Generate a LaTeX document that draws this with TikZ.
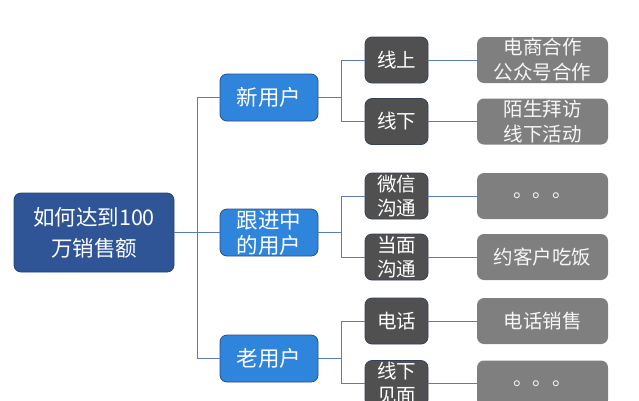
\documentclass[tikz,border=0pt]{standalone}
\usepackage{fontspec}
\setmainfont{Noto Sans CJK SC}
\begin{document}
\begin{tikzpicture}[x=1pt,y=-1pt,
  base/.style={rounded corners=7pt, text=white, align=center, inner sep=0pt, line width=0.8pt},
  rootbox/.style={base, fill=rootblue, draw=rootedge, minimum width=160pt, minimum height=79pt, font=\fontsize{21.5}{31}\selectfont},
  lvone/.style={base, fill=lvblue, draw=lvedge, minimum width=98pt, minimum height=47pt, font=\fontsize{21.5}{25}\selectfont},
  lvtwo/.style={base, fill=darkgrey, draw=greyedge, minimum width=63pt, minimum height=46pt, font=\fontsize{19.5}{24}\selectfont},
  lvthree/.style={base, fill=midgrey, draw=none, minimum width=131pt, minimum height=46pt, text=white!94!gray, font=\fontsize{19.5}{25}\selectfont},
  link/.style={draw=linkblue, line width=0.8pt}
]
\definecolor{rootblue}{HTML}{2F5597}
\definecolor{rootedge}{HTML}{22407A}
\definecolor{lvblue}{HTML}{2F84DC}
\definecolor{lvedge}{HTML}{2A4E8C}
\definecolor{darkgrey}{HTML}{505050}
\definecolor{greyedge}{HTML}{34405C}
\definecolor{midgrey}{HTML}{7F7F7F}
\definecolor{linkblue}{HTML}{5A7CBA}
\useasboundingbox (0,0) rectangle (639,400);
\clip (0,0) rectangle (639,400);

\node[rootbox] (root) at (94,232.5) {如何达到100\\万销售额};

\node[lvone] (n1) at (269,97.5) {新用户};
\node[lvone] (n2) at (269,232.5) {跟进中\\的用户};
\node[lvone] (n3) at (269,358.5) {老用户};

\node[lvtwo] (a1) at (396.5,60) {线上};
\node[lvtwo] (a2) at (396.5,121.5) {线下};
\node[lvtwo] (a3) at (396.5,196) {微信\\沟通};
\node[lvtwo] (a4) at (396.5,257) {当面\\沟通};
\node[lvtwo] (a5) at (396.5,321) {电话};
\node[lvtwo] (a6) at (396.5,383.5) {线下\\见面};

\node[lvthree] (c1) at (542.5,60) {电商合作\\公众号合作};
\node[lvthree] (c2) at (542.5,121.5) {陌生拜访\\线下活动};
\node[lvthree] (c3) at (542.5,196) {。。。};
\node[lvthree] (c4) at (542.5,257) {约客户吃饭};
\node[lvthree] (c5) at (542.5,321) {电话销售};
\node[lvthree] (c6) at (542.5,383.5) {。。。};

\coordinate (b0) at (197,232.5);
\coordinate (b1) at (341,97.5);
\coordinate (b2) at (341,232.5);
\coordinate (b3) at (341,358.5);

\draw[link] (root) -- (b0);
\draw[link] (b0) |- (n1);
\draw[link] (b0) -- (n2);
\draw[link] (b0) |- (n3);

\draw[link] (n1) -- (b1);
\draw[link] (b1) |- (a1);
\draw[link] (b1) |- (a2);
\draw[link] (n2) -- (b2);
\draw[link] (b2) |- (a3);
\draw[link] (b2) |- (a4);
\draw[link] (n3) -- (b3);
\draw[link] (b3) |- (a5);
\draw[link] (b3) |- (a6);

\draw[link] (a1) -- (c1);
\draw[link] (a2) -- (c2);
\draw[link] (a3) -- (c3);
\draw[link] (a4) -- (c4);
\draw[link] (a5) -- (c5);
\draw[link] (a6) -- (c6);
\end{tikzpicture}
\end{document}
